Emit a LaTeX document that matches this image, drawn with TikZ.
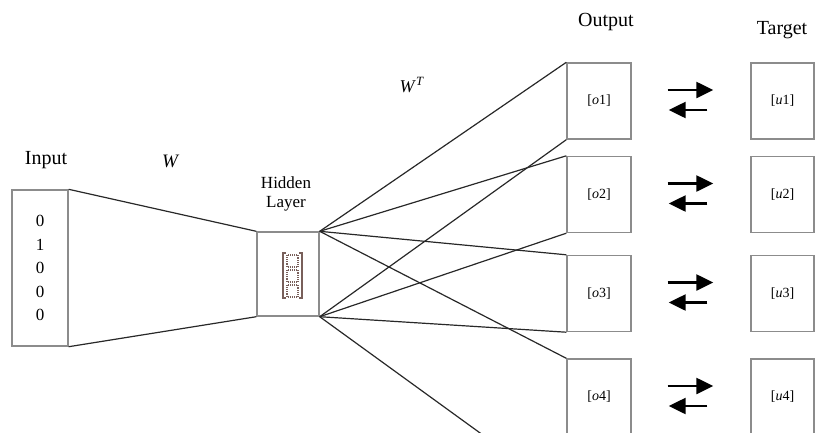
\documentclass[tikz,border=0pt]{standalone}
\usepackage{fontspec}
\setmainfont{Liberation Serif}
\usetikzlibrary{arrows.meta}
\definecolor{boxgray}{RGB}{140,140,140}
\definecolor{wiregray}{RGB}{40,40,40}
\definecolor{icon}{RGB}{120,95,90}
\newcommand{\drawwire}{\draw[wiregray,line width=1.2pt]}
\newcommand{\drawswap}{\draw[line width=2.4pt,-{Triangle[length=17pt,width=16pt]}]}
\tikzset{
  unit/.style={draw=boxgray,line width=1.4pt,minimum width=64pt,minimum height=76pt,
    inner sep=0pt,font=\fontsize{14}{16}\selectfont},
  caption/.style={font=\fontsize{20}{22}\selectfont,inner sep=0pt,anchor=base},
}

\begin{document}
\begin{tikzpicture}[x=1pt,y=-1pt]
\useasboundingbox (0,0) rectangle (816,432);
% boxes
\node[unit,minimum width=56pt,minimum height=156pt,align=center,
  font=\fontsize{17}{23.5}\selectfont] (inp) at (40,268) {0\\1\\0\\0\\0};
\node[unit,minimum width=62pt,minimum height=84pt] (hid) at (288,274) {};
\foreach \i/\y in {1/101,2/194.5,3/293.5,4/397}{
  \node[unit] (o\i) at (599,\y) {[\textit{o}\i]};
  \node[unit,minimum width=63pt] (u\i) at (782.5,\y) {[\textit{u}\i]};
  \drawswap ([xshift=36pt,yshift=11pt]o\i.east) -- ([xshift=-37pt,yshift=11pt]u\i.west);
  \drawswap ([xshift=-43pt,yshift=-9pt]u\i.west) -- ([xshift=37pt,yshift=-9pt]o\i.east);
  \drawwire (hid.north east) -- (o\i.north west);
}
\coordinate (o5) at (567,496);
% wires
\drawwire (inp.north east) -- (hid.north west);
\drawwire (inp.south east) -- (hid.south west);
\foreach \t in {o1.south west,o2.south west,o3.south west,o5}
  \drawwire (hid.south east) -- (\t);
% hidden vector
\begin{scope}[shift={(hid.center)},icon,line width=1.1pt]
  \draw (-2,-21) -- (-5,-21) -- (-5,24) -- (-2,24);
  \draw (11,-21) -- (14,-21) -- (14,24) -- (11,24);
  \foreach \t in {-19,-4,11}
    \draw[densely dotted] (-1,\t) rectangle (10,\t+12);
\end{scope}
% labels
\node[caption] (inlab) at (46,164) {Input};
\node[caption,font=\fontsize{19}{22}\selectfont\itshape] (wlab) at (170,167) {W};
\node[caption,font=\fontsize{18}{20}\selectfont] (wtlab) at (412,92) {\textit{W}\textsuperscript{\textit{T}}};
\node[font=\fontsize{17}{19}\selectfont,align=center,inner sep=0pt] (hidlab) at (286,194) {Hidden\\Layer};
\node[caption] (outlab) at (606,26) {Output};
\node[caption] (tarlab) at (782,34) {Target};
\end{tikzpicture}
\end{document}
